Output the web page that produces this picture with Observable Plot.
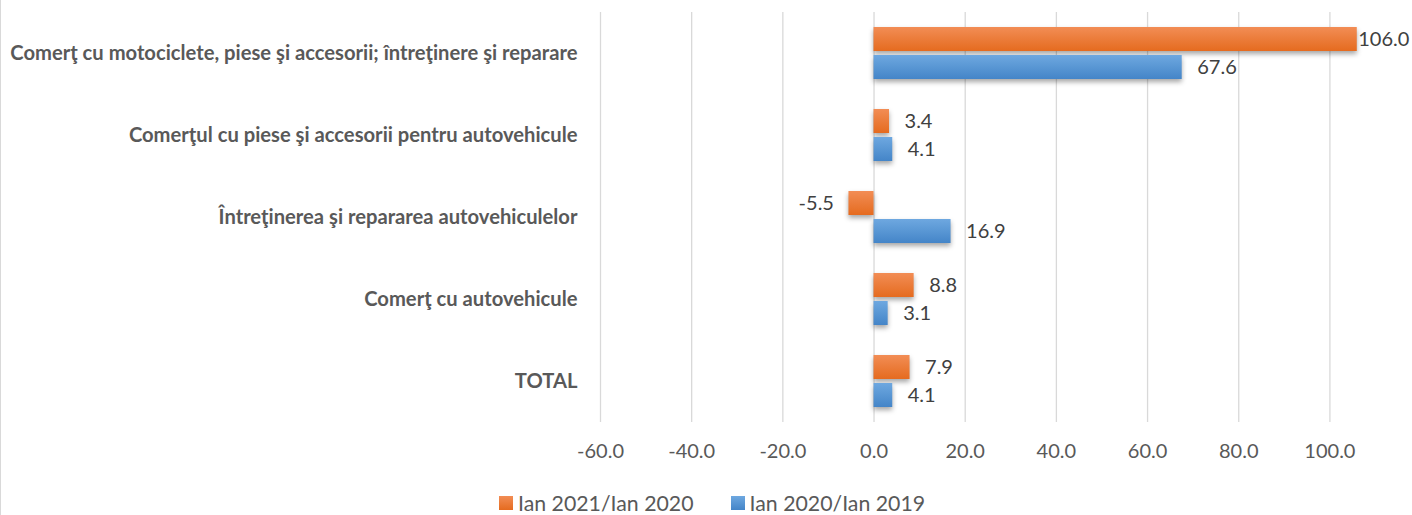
<!DOCTYPE html>
<html>
<head>
<meta charset="utf-8">
<script src="https://cdn.jsdelivr.net/npm/d3@7"></script>
<script src="https://cdn.jsdelivr.net/npm/@observablehq/plot@0.6"></script>
<style>
  html, body { margin: 0; padding: 0; background: #fff; }
  #wrap { position: relative; width: 1412px; height: 515px; overflow: hidden; font-family: Lato, "Open Sans", sans-serif; }
  #border { position: absolute; left: 0; top: 0; width: 1px; height: 515px; background: #d9d9d9; }
  #chart { position: absolute; left: 0; top: 0; }
  g[aria-label="bar"] rect { filter: drop-shadow(0px 3px 2.5px rgba(0,0,0,0.35)); }
  #legend { position: absolute; top: 490px; left: 499px; display: flex; align-items: center; font-size: 21.3px; color: #595959; white-space: nowrap; }
  .sw { display: inline-block; width: 14px; height: 14px; margin-right: 5px; }
  .item { display: flex; align-items: center; margin-right: 37px; }
</style>
</head>
<body>
<div id="wrap">
  <div id="border"></div>
  <div id="chart"></div>
  <div id="legend"></div>
</div>
<script>
const categories = [
  "Comerţ cu motociclete, piese şi accesorii; întreţinere şi reparare",
  "Comerţul cu piese şi accesorii pentru autovehicule",
  "Întreţinerea şi repararea autovehiculelor",
  "Comerţ cu autovehicule",
  "TOTAL"
];
const series = ["Ian 2021/Ian 2020", "Ian 2020/Ian 2019"];
const ian2021 = [106.0, 3.4, -5.5, 8.8, 7.9];
const ian2020 = [67.6, 4.1, 16.9, 3.1, 4.1];
const xTicks = [-60, -40, -20, 0, 20, 40, 60, 80, 100];

const colors = {
  [series[0]]: {id: "gradO", top: "#F28D55", bottom: "#E56B1F", flat: "#ED7D31"},
  [series[1]]: {id: "gradB", top: "#6EA8E0", bottom: "#4485C8", flat: "#5B9BD5"}
};

const data = [];
categories.forEach((c, i) => {
  data.push({cat: c, series: series[0], value: ian2021[i]});
  data.push({cat: c, series: series[1], value: ian2020[i]});
});

const fmt = d => d.toFixed(1);
const labelFill = "#404040";
const textFill = "#595959";

const svg = Plot.plot({
  width: 1412,
  height: 480,
  marginTop: 12,
  marginBottom: 58,
  marginLeft: 600,
  marginRight: 37,
  style: {fontFamily: "Lato, 'Open Sans', sans-serif", background: "transparent"},
  x: {domain: [-60, 110]},
  y: {domain: series, axis: null, paddingInner: 0.138, paddingOuter: 0.483},
  fy: {domain: categories, padding: 0, axis: null},
  marks: [
    Plot.gridX({ticks: xTicks, stroke: "#d9d9d9", strokeOpacity: 1, strokeWidth: 1.3}),
    ...series.map(s => Plot.barX(data.filter(d => d.series === s), {
      x: "value", y: "series", fy: "cat", fill: `url(#${colors[s].id})`
    })),
    Plot.text(data.filter(d => d.value >= 0 && d.value < 100), {
      x: "value", y: "series", fy: "cat", text: d => fmt(d.value),
      textAnchor: "start", dx: 15, fontSize: 20, fill: labelFill
    }),
    Plot.text(data.filter(d => d.value >= 100), {
      x: "value", y: "series", fy: "cat", text: d => fmt(d.value),
      textAnchor: "start", dx: 1, fontSize: 20, fill: labelFill
    }),
    Plot.text(data.filter(d => d.value < 0), {
      x: "value", y: "series", fy: "cat", text: d => fmt(d.value),
      textAnchor: "end", dx: -15, fontSize: 20, fill: labelFill
    }),
    Plot.axisFy({anchor: "left", tickSize: 0, tickPadding: 23, label: null,
      fontSize: 20.2, fontWeight: "bold", fill: textFill}),
    Plot.axisX({anchor: "bottom", ticks: xTicks, tickSize: 0, tickPadding: 21, label: null,
      tickFormat: fmt, fontSize: 20, fill: textFill})
  ]
});

const defs = d3.select(svg).insert("defs", ":first-child");
Object.values(colors).forEach(c => {
  const g = defs.append("linearGradient").attr("id", c.id)
    .attr("x1", 0).attr("y1", 0).attr("x2", 0).attr("y2", 1);
  g.append("stop").attr("offset", "0%").attr("stop-color", c.top);
  g.append("stop").attr("offset", "100%").attr("stop-color", c.bottom);
});

document.getElementById("chart").appendChild(svg);

const legend = document.getElementById("legend");
series.forEach(s => {
  const item = document.createElement("div");
  item.className = "item";
  const sw = document.createElement("span");
  sw.className = "sw";
  sw.style.background = `linear-gradient(${colors[s].top}, ${colors[s].bottom})`;
  const t = document.createElement("span");
  t.textContent = s;
  item.appendChild(sw);
  item.appendChild(t);
  legend.appendChild(item);
});
</script>
</body>
</html>
